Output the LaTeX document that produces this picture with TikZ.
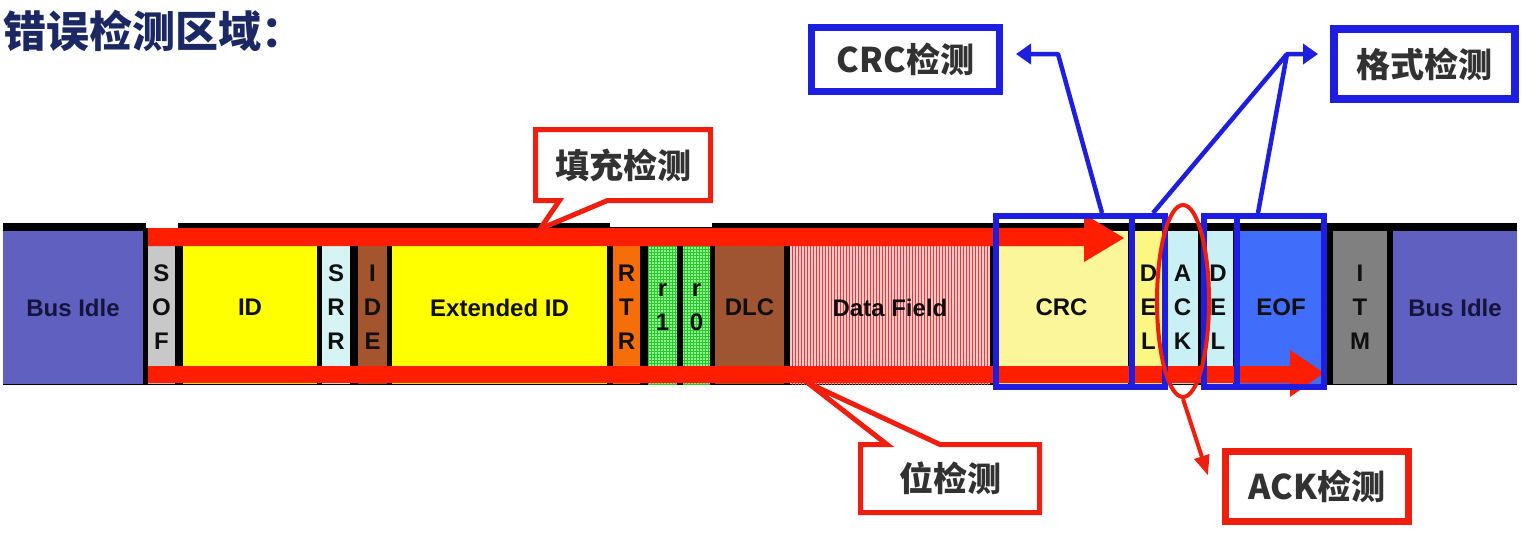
\documentclass[tikz,border=0pt]{standalone}
\usepackage{fontspec}
\setmainfont{Liberation Sans}
\newfontfamily\cjk{Noto Sans CJK SC}
\usetikzlibrary{shapes.geometric,shapes.callouts,arrows.meta,patterns}
\definecolor{busidle}{RGB}{96,96,192}
\definecolor{sofgray}{RGB}{200,200,200}
\definecolor{idyellow}{RGB}{255,255,0}
\definecolor{srrcyan}{RGB}{215,244,244}
\definecolor{idebrown}{RGB}{165,85,45}
\definecolor{rtrorange}{RGB}{245,110,10}
\definecolor{rgreen}{RGB}{150,242,150}
\definecolor{rgrid}{RGB}{40,200,40}
\definecolor{dlcbrown}{RGB}{160,85,50}
\definecolor{datapink}{RGB}{250,198,198}
\definecolor{datared}{RGB}{225,60,60}
\definecolor{crcyellow}{RGB}{252,246,155}
\definecolor{delyellow}{RGB}{252,246,130}
\definecolor{ackcyan}{RGB}{200,240,245}
\definecolor{eofblue}{RGB}{64,110,250}
\definecolor{itmgray}{RGB}{128,128,128}
\definecolor{barred}{RGB}{255,30,0}
\definecolor{boxred}{RGB}{240,30,15}
\definecolor{boxblue}{RGB}{30,30,225}
\definecolor{titlenavy}{RGB}{28,40,100}
\definecolor{calltext}{RGB}{50,50,50}
\definecolor{labeltext}{RGB}{15,15,15}
\definecolor{idletext}{RGB}{20,20,60}
\tikzset{
  fieldbox/.style={draw=none, inner sep=0pt, minimum height=153, text=labeltext,
    font=\fontsize{24}{34}\selectfont\bfseries, align=center},
  callbox/.style={rectangle callout, draw=boxred, line width=5pt, fill=white,
    inner sep=0pt, text=calltext, font=\cjk\bfseries\fontsize{34}{40}\selectfont},
  redbox/.style={rectangle, draw=boxred, line width=7pt, fill=white,
    inner sep=0pt, text=calltext, font=\cjk\bfseries\fontsize{34}{40}\selectfont},
  bluebox/.style={rectangle, draw=boxblue, line width=7pt, fill=white,
    inner sep=0pt, text=calltext, font=\cjk\bfseries\fontsize{34}{40}\selectfont},
  blueframe/.style={rectangle, draw=boxblue, line width=6pt, inner sep=0pt},
  blueline/.style={draw=boxblue, line width=4.5pt, line join=round},
  bluearrow/.style={blueline, -{Triangle[length=15pt,width=20pt]}},
  redarrow/.style={draw=boxred, line width=4pt, -{Triangle[length=20pt,width=15pt]}},
}
\newcommand\canfield[6][]{\node[fieldbox, fill=#5, minimum width={#4-#3}, #1] (#2) at ({(#3+#4)/2},307.5) {#6};}
\begin{document}
\begin{tikzpicture}[x=1pt,y=-1pt]
\useasboundingbox (0,0) rectangle (1522,558);
\fill[white] (0,0) rectangle (1522,558);
% title
\node[anchor=base west, inner sep=0pt, text=titlenavy, font=\cjk\bfseries\fontsize{43}{50}\selectfont] (title) at (3,47) {错误检测区域：};
% frame
\fill[black] (3,223) rectangle (1517,385);
\fill[white] (146,216) rectangle (178,228);
\fill[white] (610,216) rectangle (712,227);
% fields
\canfield[text=idletext]{busL}{3}{143}{busidle}{Bus Idle}
\canfield{sof}{148}{175}{sofgray}{S\\O\\F}
\canfield{id}{183}{317}{idyellow}{ID}
\canfield{srr}{322}{350}{srrcyan}{S\\R\\R}
\canfield{ide}{358}{387}{idebrown}{I\\D\\E}
\canfield{extid}{392}{607}{idyellow}{Extended ID}
\canfield{rtr}{613}{640}{rtrorange}{R\\T\\R}
\canfield[postaction={pattern=grid, pattern color=rgrid}]{rone}{648}{677}{rgreen}{}
\node[fieldbox] (ronelbl) at (rone.center) {r\\1};
\canfield[postaction={pattern=grid, pattern color=rgrid}]{rzero}{683}{710}{rgreen}{}
\node[fieldbox] (rzerolbl) at (rzero.center) {r\\0};
\canfield{dlc}{715}{784}{dlcbrown}{DLC}
\canfield[postaction={pattern=vertical lines, pattern color=datared}]{data}{790}{990}{datapink}{}
\node[font=\fontsize{24}{34}\selectfont\bfseries, text=labeltext] (datalbl) at (data.center) {Data Field};
\canfield{crc}{995}{1128}{crcyellow}{CRC}
\canfield{delone}{1135}{1162}{delyellow}{D\\E\\L}
\canfield{ack}{1167}{1198}{ackcyan}{A\\C\\K}
\canfield{deltwo}{1203}{1233}{ackcyan}{D\\E\\L}
\canfield{eof}{1240}{1322}{eofblue}{EOF}
\canfield{itm}{1333}{1387}{itmgray}{I\\T\\M}
\canfield[text=idletext]{busR}{1393}{1517}{busidle}{Bus Idle}
% red bars (bit and stuffing monitoring)
\fill[barred] (148,228) -- (1084,228) -- (1084,214) -- (1124,238) -- (1084,262) -- (1084,246) -- (148,246) -- cycle;
\fill[barred] (148,366) -- (1290,366) -- (1290,350) -- (1324,373) -- (1290,397) -- (1290,383) -- (148,383) -- cycle;
% blue frames
\node[blueframe, minimum width=169, minimum height=171] (frameA) at (1080.5,301.5) {};
\draw[boxblue, line width=6pt] (1132,216) coordinate (dA1) -- (1132,387) coordinate (dA2);
\node[blueframe, minimum width=120, minimum height=171] (frameB) at (1264,301.5) {};
\draw[boxblue, line width=6pt] (1237,216) coordinate (dB1) -- (1237,387) coordinate (dB2);
% ACK ellipse
\node[ellipse, draw=boxred, line width=4pt, minimum width=52, minimum height=192, inner sep=0pt] (ackring) at (1183,301) {};
% callouts
\node[callbox, minimum width=175, minimum height=71, callout pointer width=48pt,
      callout absolute pointer={(540,229)}] (filldet) at (623,165) {填充检测};
\node[callbox, minimum width=179, minimum height=68, callout pointer width=53pt,
      callout absolute pointer={(808,383)}] (bitdet) at (950,478.5) {位检测};
\node[redbox, minimum width=183, minimum height=70] (ackdet) at (1317,486.5) {ACK检测};
\node[bluebox, minimum width=188, minimum height=64] (crcdet) at (905.5,59.5) {CRC检测};
\node[bluebox, minimum width=181, minimum height=70, line width=8pt] (fmtdet) at (1424,64) {格式检测};
% connectors
\coordinate (crcFrom) at (1102,213);
\coordinate (crcBend) at (1058,54);
\draw[bluearrow] (crcFrom) -- (crcBend) -- ([shift={(13,-5.5)}]crcdet.east);
\coordinate (fmtFromA) at (1153,213);
\coordinate (fmtFromB) at (1258,213);
\coordinate (fmtBend) at (1287,54);
\draw[blueline] (fmtFromA) -- (fmtBend);
\draw[bluearrow] (fmtFromB) -- (fmtBend) -- ([shift={(-11.5,-10)}]fmtdet.west);
\draw[redarrow] (ackring.south) -- ([shift={(-14,-11)}]ackdet.west);
\end{tikzpicture}
\end{document}
